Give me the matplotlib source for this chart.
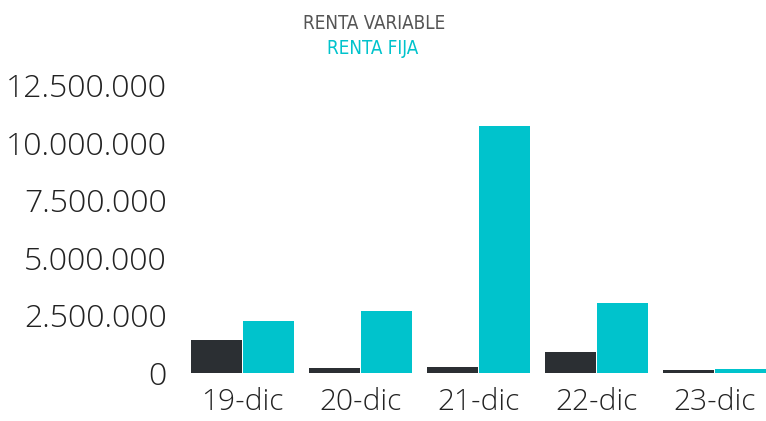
import numpy as np
import matplotlib.pyplot as plt
from matplotlib.ticker import FuncFormatter

# Data
fechas = ['19-dic', '20-dic', '21-dic', '22-dic', '23-dic']
renta_variable = [1420000, 190000, 230000, 910000, 130000]
renta_fija = [2240000, 2680000, 10730000, 3010000, 160000]
y_ticks = [0, 2500000, 5000000, 7500000, 10000000, 12500000]

dark = '#2b2f33'
teal = '#00c3cc'

plt.rcParams['font.family'] = ['Open Sans', 'DejaVu Sans']

fig = plt.figure(figsize=(7.66, 4.21), dpi=100)
ax = fig.add_axes([183.5 / 766, 48.3 / 421, 590 / 766, 287.7 / 421])

x = np.arange(len(fechas))
w = 0.43
ax.bar(x - 0.222, renta_variable, w, color=dark, linewidth=0)
ax.bar(x + 0.222, renta_fija, w, color=teal, linewidth=0)

ax.set_xlim(-0.5, 4.5)
ax.set_ylim(0, 12500000)
ax.set_yticks(y_ticks)
ax.yaxis.set_major_formatter(FuncFormatter(lambda v, p: f'{int(v):,}'.replace(',', '.')))
ax.set_xticks(x)
ax.set_xticklabels(fechas)

for s in ax.spines.values():
    s.set_visible(False)
ax.tick_params(axis='both', length=0, labelcolor='#222222')
ax.tick_params(axis='y', pad=12, labelsize=23)
ax.tick_params(axis='x', pad=11, labelsize=21.5)
for lab in ax.get_xticklabels() + ax.get_yticklabels():
    lab.set_fontweight('light')

leg_font = ['DejaVu Sans']
fig.text(374 / 766, 1 - 23.5 / 421, 'RENTA VARIABLE', ha='center', va='center',
         fontsize=13.5, color='#555555', family=leg_font, fontstretch='condensed')
fig.text(373 / 766, 1 - 48.5 / 421, 'RENTA FIJA', ha='center', va='center',
         fontsize=13.5, color=teal, family=leg_font, fontstretch='condensed')

fig.savefig('out.png', dpi=100)
